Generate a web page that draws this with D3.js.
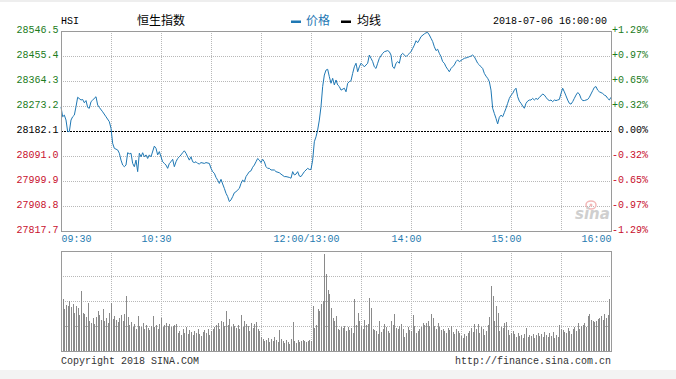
<!DOCTYPE html>
<html><head><meta charset="utf-8">
<script src="https://cdn.jsdelivr.net/npm/d3@7"></script>
<style>
html,body{margin:0;padding:0;background:#fff;}
svg{display:block;}
</style></head>
<body>
<svg id="chart" width="676" height="379"></svg>
<script>
// ---------------- data ----------------
const indexCode = "HSI";
const indexName = "恒生指数";
const legendLabels = ["价格", "均线"];
const stampText = "2018-07-06 16:00:00";
const prevClose = 28182.1;

const priceTicks = [28546.5, 28455.4, 28364.3, 28273.2, 28182.1, 28091.0, 27999.9, 27908.8, 27817.7];
const pctTicks = ["+1.29%", "+0.97%", "+0.65%", "+0.32%", "0.00%", "-0.32%", "-0.65%", "-0.97%", "-1.29%"];
const timeTickLabels = ["09:30", "10:30", "12:00/13:00", "14:00", "15:00", "16:00"];
const gridTimes = ["10:00", "10:30", "11:00", "11:30", "12:00", "13:30", "14:00", "14:30", "15:00", "15:30"];
const volumeGrid = [25, 50, 75];

const priceTimes = [
"09:30","09:31","09:32","09:33","09:34","09:35","09:36","09:37","09:38","09:39","09:40","09:42","09:43","09:44","09:45","09:46","09:47","09:48","09:49","09:51","09:52","09:53","09:55","09:57","09:59",
"10:00","10:01","10:02","10:04","10:05","10:06","10:07","10:08","10:09","10:10","10:11","10:12","10:13","10:14","10:15","10:16","10:17","10:18","10:19","10:20","10:21","10:22","10:23","10:24","10:26","10:27","10:28","10:29",
"10:30","10:31","10:32","10:33","10:34","10:35","10:36","10:37","10:38","10:39","10:40","10:41","10:42","10:43","10:44","10:45","10:46","10:47","10:48","10:49","10:50","10:51","10:52","10:53","10:54","10:56","10:57","10:59",
"11:00","11:01","11:02","11:03","11:04","11:05","11:06","11:07","11:08","11:09","11:10","11:11","11:12","11:13","11:14","11:15","11:17","11:18","11:19","11:20","11:21","11:22","11:23","11:24","11:25","11:26","11:27","11:28","11:29",
"11:30","11:31","11:32","11:33","11:34","11:35","11:36","11:38","11:39","11:41","11:42","11:44","11:45","11:47","11:48","11:49","11:50","11:51","11:52","11:53","11:54","11:55","11:56","11:57","11:58","11:59","12:00",
"13:01","13:02","13:03","13:04","13:05","13:06","13:07","13:08","13:09","13:10","13:11","13:12","13:13","13:14","13:15","13:16","13:17","13:18","13:20","13:21","13:22","13:23","13:24","13:25","13:26","13:27","13:28","13:29",
"13:30","13:31","13:32","13:34","13:35","13:36","13:37","13:38","13:39","13:40","13:41","13:43","13:44","13:46","13:47","13:48","13:49","13:50","13:51","13:52","13:53","13:54","13:55","13:57","13:58","13:59",
"14:00","14:01","14:02","14:03","14:04","14:05","14:06","14:08","14:09","14:10","14:11","14:12","14:13","14:14","14:15","14:16","14:17","14:18","14:19","14:20","14:21","14:22","14:23","14:24","14:25","14:26","14:27","14:28","14:29",
"14:31","14:32","14:34","14:35","14:36","14:37","14:38","14:39","14:40","14:41","14:42","14:43","14:44","14:45","14:46","14:47","14:48","14:49","14:50","14:51","14:52","14:53","14:54","14:55","14:56","14:57","14:58","14:59",
"15:00","15:01","15:02","15:03","15:04","15:05","15:06","15:07","15:08","15:09","15:10","15:11","15:12","15:13","15:14","15:15","15:16","15:17","15:18","15:19","15:20","15:21","15:22","15:23","15:24","15:25","15:26","15:27","15:28","15:29",
"15:30","15:31","15:32","15:33","15:34","15:35","15:36","15:37","15:38","15:39","15:40","15:41","15:42","15:43","15:44","15:45","15:46","15:47","15:48","15:49","15:50","15:51","15:52","15:53","15:54","15:55","15:56","15:57","15:58","15:59","16:00"
];
const priceValues = [
28270,28234,28240,28222,28180,28180,28222,28234,28240,28271,28305,28295,28297,28285,28293,28268,28265,28289,28295,28307,28277,28268,28252,28234,28216,
28192,28137,28119,28113,28101,28076,28058,28052,28058,28103,28099,28101,28064,28052,28076,28034,28101,28088,28103,28088,28095,28082,28095,28088,28127,28119,28095,28107,
28088,28070,28064,28058,28046,28064,28070,28079,28052,28070,28082,28088,28095,28103,28110,28101,28088,28076,28088,28070,28067,28070,28064,28062,28067,28064,28067,28064,
28046,28034,28028,28013,28003,27991,28006,27989,27973,27955,27943,27925,27931,27943,27957,27961,27973,27991,28003,27997,28016,28025,28034,28037,28050,28058,28070,28082,28076,
28067,28079,28070,28052,28046,28046,28040,28040,28034,28030,28025,28016,28016,28013,28010,28034,28022,28025,28034,28018,28016,28025,28034,28040,28046,28042,28042,
28076,28143,28161,28186,28222,28271,28344,28386,28404,28407,28380,28356,28374,28350,28368,28350,28344,28331,28338,28325,28356,28362,28365,28392,28416,28429,28398,28416,
28429,28423,28416,28429,28459,28447,28435,28416,28410,28429,28447,28465,28471,28475,28471,28459,28416,28410,28429,28435,28429,28459,28465,28453,28459,28465,
28471,28483,28495,28511,28504,28514,28526,28536,28540,28541,28532,28520,28508,28489,28475,28480,28465,28453,28435,28429,28416,28407,28398,28410,28416,28423,28435,28441,28435,
28443,28447,28450,28453,28455,28459,28453,28441,28429,28423,28416,28410,28392,28382,28374,28362,28331,28265,28246,28228,28208,28232,28240,28234,28249,28265,28283,28301,
28312,28319,28331,28338,28307,28291,28283,28273,28265,28283,28291,28295,28295,28301,28295,28301,28297,28305,28310,28317,28313,28305,28297,28293,28295,28289,28295,28293,28295,28297,
28319,28338,28325,28310,28295,28283,28280,28289,28301,28313,28322,28317,28301,28293,28293,28295,28297,28305,28317,28329,28341,28344,28331,28325,28322,28319,28313,28310,28301,28295,28305
];

// one volume bar per trading minute, starting 09:30 (index 0) ... 12:00 (150), 13:01 (151) ... 16:00 (330)
const volumeValues = [
48,52,42,46,45,50,44,47,38,45, 43,36,60,38,37,34,48,30,28,33,
27,34,40,36,31,42,30,33,28,38, 48,32,35,31,29,33,36,30,37,55,
34,26,29,24,27,22,35,25,24,28, 22,26,23,21,25,35,24,26,22,27,
33,24,26,28,25,27,24,25,26,27, 18,20,16,22,18,24,17,21,19,16,
20,18,22,17,15,19,21,18,22,16, 20,22,24,26,28,22,30,29,25,40,
26,32,24,27,25,23,26,22,36,24, 30,27,25,20,28,23,27,29,22,20,
14,12,10,11,13,9,12,10,14,11, 9,21,12,10,8,11,9,7,12,29,
10,8,11,9,10,11,10,9,10,11, 10,
45,23,26,42,40,47,50,97,77, 61,57,43,33,30,35,22,21,24,23,
25,20,24,21,23,18,52,26,38,30, 25,22,31,26,27,53,43,22,21,20,
17,30,19,22,27,24,20,18,30,26, 37,23,22,25,27,22,14,18,24,21,
20,36,25,18,20,22,24,28,26,28, 30,25,37,33,25,22,28,24,21,22,
20,18,23,21,25,19,17,22,20,18, 15,13,17,15,18,20,23,19,27,22,
27,18,24,22,16,20,26,34,65,55, 30,45,38,20,24,23,28,29,21,16,
18,20,17,14,18,15,16,13,17,23, 14,16,15,17,13,16,18,15,17,14,
19,16,14,18,15,19,13,16,14,26, 22,21,19,18,23,20,17,22,24,20,
28,22,25,26,28,24,35,37,31,30, 29,30,32,33,35,31,37,33,36,52
];

// ---------------- helpers ----------------
function tradingMinute(t) {
  const p = t.split("/")[0].split(":");
  const v = (+p[0]) * 60 + (+p[1]);
  return v <= 720 ? v - 570 : v - 780 + 150;
}

// ---------------- layout ----------------
const svg = d3.select("#chart");
const L = 61, R = 611, T = 31, B = 231, VT = 251, VB = 351;
const monoFont = "'Liberation Mono', 'DejaVu Sans Mono', monospace";
const cjkFont = "'Noto Sans CJK SC', 'Noto Sans', sans-serif";
const lineColor = "#1f78b4";
const green = "#1c7c1c", red = "#c8102e";

svg.append("rect").attr("x", 0).attr("y", 0).attr("width", 676).attr("height", 2).attr("fill", "#eeeeee");
svg.append("rect").attr("x", 0).attr("y", 370).attr("width", 676).attr("height", 9).attr("fill", "#f3f3f3");

const x = d3.scaleLinear().domain([0, 330]).range([L, R]);
const y = d3.scaleLinear().domain([priceTicks[priceTicks.length - 1], priceTicks[0]]).range([B, T]);
const yPct = d3.scalePoint().domain(pctTicks).range([T, B]);
const yVol = d3.scaleLinear().domain([0, 100]).range([VB, VT]);

const crisp = v => Math.round(v) + 0.5;
const gridStyle = sel => sel.attr("stroke", "#b8b8b8").attr("stroke-width", 1).attr("stroke-dasharray", "1,1").attr("shape-rendering", "crispEdges");

// --- main panel grid
const g = svg.append("g");
g.selectAll(".hg").data(priceTicks.filter((d, i) => i > 0 && i < priceTicks.length - 1 && d !== prevClose))
  .enter().append("line")
  .attr("x1", L).attr("x2", R).attr("y1", d => crisp(y(d))).attr("y2", d => crisp(y(d))).call(gridStyle);
g.selectAll(".vg").data(gridTimes).enter().append("line")
  .attr("x1", d => crisp(x(tradingMinute(d)))).attr("x2", d => crisp(x(tradingMinute(d))))
  .attr("y1", T).attr("y2", B).call(gridStyle);

// --- volume panel grid
g.selectAll(".vhg").data(volumeGrid).enter().append("line")
  .attr("x1", L).attr("x2", R).attr("y1", d => crisp(yVol(d))).attr("y2", d => crisp(yVol(d))).call(gridStyle);
g.selectAll(".vvg").data(gridTimes).enter().append("line")
  .attr("x1", d => crisp(x(tradingMinute(d)))).attr("x2", d => crisp(x(tradingMinute(d))))
  .attr("y1", VT).attr("y2", VB).call(gridStyle);

// --- volume bars
svg.append("g").selectAll("rect").data(volumeValues).enter().append("rect")
  .attr("x", (d, i) => Math.round(x(i)))
  .attr("width", 1)
  .attr("y", d => Math.round(yVol(d)))
  .attr("height", d => VB - Math.round(yVol(d)))
  .attr("fill", "#8a8a8a")
  .attr("shape-rendering", "crispEdges");

// --- previous close dashed line
svg.append("line").attr("x1", L).attr("x2", R)
  .attr("y1", crisp(y(prevClose))).attr("y2", crisp(y(prevClose)))
  .attr("stroke", "#000").attr("stroke-dasharray", "2,1").attr("shape-rendering", "crispEdges");

// --- watermark
const wm = svg.append("g");
wm.append("ellipse").attr("cx", 591).attr("cy", 205).attr("rx", 5).attr("ry", 4)
  .attr("fill", "none").attr("stroke", "#f2b8b8").attr("stroke-width", 1.5);
wm.append("circle").attr("cx", 591).attr("cy", 205).attr("r", 1.5).attr("fill", "#f2b8b8");
wm.append("text").attr("x", 575).attr("y", 219).text("sina")
  .attr("font-family", "'DejaVu Sans', sans-serif").attr("font-size", 15).attr("font-style", "italic")
  .attr("font-weight", "bold").attr("fill", "#cfcfcf");

// --- price line
const line = d3.line()
  .x((d, i) => x(tradingMinute(priceTimes[i])))
  .y(d => y(d));
svg.append("path").datum(priceValues).attr("d", line)
  .attr("fill", "none").attr("stroke", lineColor).attr("stroke-width", 1).attr("stroke-linejoin", "round");

// --- panel borders
svg.append("rect").attr("x", L + 0.5).attr("y", T + 0.5).attr("width", R - L).attr("height", B - T)
  .attr("fill", "none").attr("stroke", "#9a9a9a").attr("shape-rendering", "crispEdges");
svg.append("rect").attr("x", L + 0.5).attr("y", VT + 0.5).attr("width", R - L).attr("height", VB - VT)
  .attr("fill", "none").attr("stroke", "#9a9a9a").attr("shape-rendering", "crispEdges");

// --- left axis
const colorFor = v => v > prevClose + 0.01 ? green : (v < prevClose - 0.01 ? red : "#000");
const leftAxis = svg.append("g").attr("transform", `translate(${L - 3},0)`)
  .call(d3.axisLeft(y).tickValues(priceTicks).tickFormat(d3.format(".1f")).tickSize(0));
leftAxis.select(".domain").remove();
leftAxis.selectAll("text").attr("font-family", monoFont).attr("font-size", 10)
  .attr("dy", 1).attr("x", 0.5).attr("fill", d => colorFor(d));

// --- right axis
const rightAxis = svg.append("g").attr("transform", `translate(648,0)`)
  .call(d3.axisLeft(yPct).tickSize(0));
rightAxis.select(".domain").remove();
rightAxis.selectAll("text").attr("font-family", monoFont).attr("font-size", 10)
  .attr("dy", 1).attr("x", 0)
  .attr("fill", d => d.startsWith("+") ? green : (d.startsWith("-") ? red : "#000"));

// --- bottom time axis
const bottomAxis = svg.append("g").attr("transform", `translate(0,${B})`)
  .call(d3.axisBottom(x).tickValues(timeTickLabels.map(tradingMinute))
    .tickFormat((d, i) => timeTickLabels[i]).tickSize(0));
bottomAxis.select(".domain").remove();
bottomAxis.selectAll("text").attr("font-family", monoFont).attr("font-size", 10)
  .attr("fill", "#1f7bb0").attr("y", 4)
  .attr("text-anchor", (d, i) => i === 0 ? "start" : (i === timeTickLabels.length - 1 ? "end" : "middle"))
  .attr("dx", (d, i) => i === 0 ? 0 : (i === timeTickLabels.length - 1 ? 0 : -5));

// --- header
svg.append("text").attr("x", L).attr("y", 24).text(indexCode)
  .attr("font-family", monoFont).attr("font-size", 10).attr("fill", "#000");
svg.append("text").attr("x", 137).attr("y", 25).text(indexName)
  .attr("font-family", cjkFont).attr("font-size", 12).attr("fill", "#000");
svg.append("rect").attr("x", 291).attr("y", 20.5).attr("width", 10).attr("height", 2.5).attr("fill", lineColor);
svg.append("text").attr("x", 306).attr("y", 25).text(legendLabels[0])
  .attr("font-family", cjkFont).attr("font-size", 12).attr("fill", lineColor);
svg.append("rect").attr("x", 341).attr("y", 20.5).attr("width", 10).attr("height", 2.5).attr("fill", "#000");
svg.append("text").attr("x", 357).attr("y", 25).text(legendLabels[1])
  .attr("font-family", cjkFont).attr("font-size", 12).attr("fill", "#000");
svg.append("text").attr("x", 607).attr("y", 24).attr("text-anchor", "end").text(stampText)
  .attr("font-family", monoFont).attr("font-size", 10).attr("fill", "#000");

// --- footer
svg.append("text").attr("x", L).attr("y", 364).text("Copyright 2018 SINA.COM")
  .attr("font-family", monoFont).attr("font-size", 10).attr("fill", "#333");
svg.append("text").attr("x", R).attr("y", 364).attr("text-anchor", "end").text("http://finance.sina.com.cn")
  .attr("font-family", monoFont).attr("font-size", 10).attr("fill", "#333");
</script>
</body></html>
